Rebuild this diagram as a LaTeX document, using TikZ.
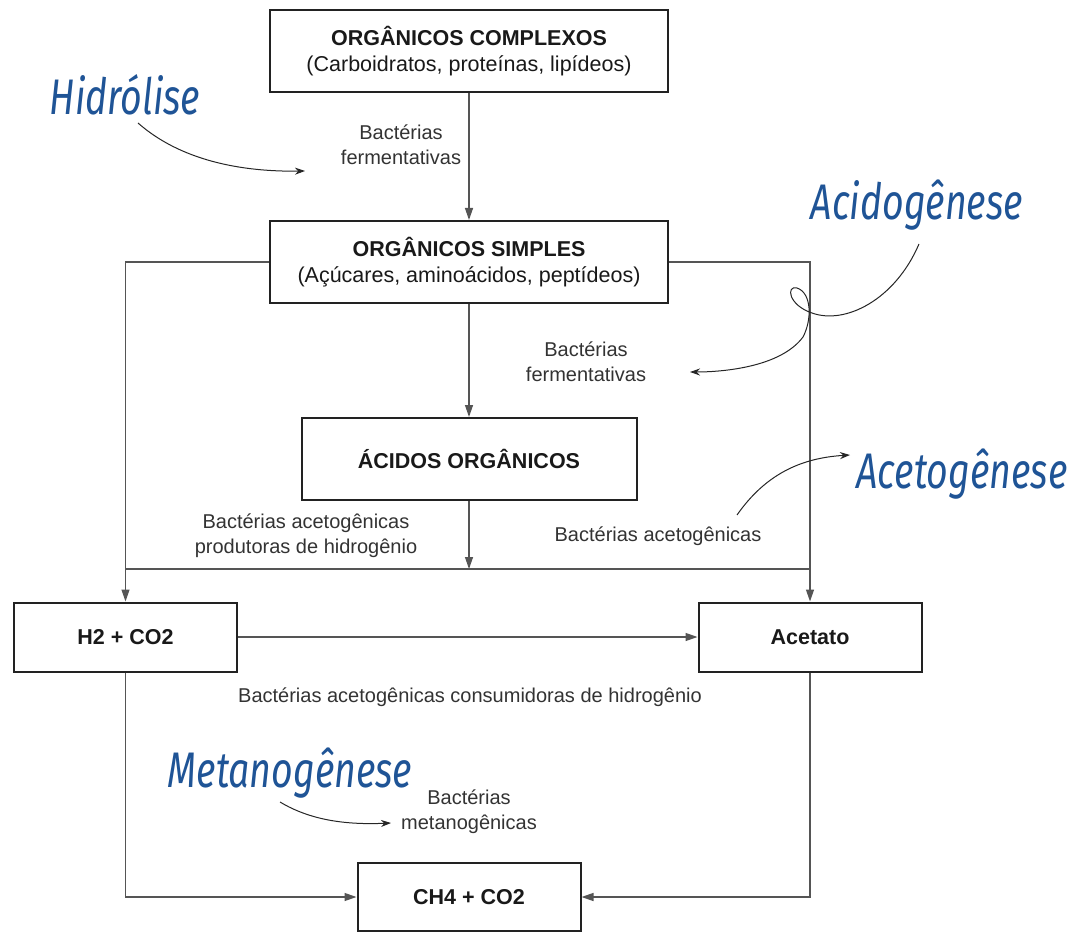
\documentclass[tikz,border=0pt]{standalone}
\usepackage{fontspec}
\setmainfont{Liberation Sans}
\newfontfamily\handfont[FakeStretch=0.75]{Fira Sans}
\usetikzlibrary{positioning, arrows.meta}
\definecolor{linegray}{HTML}{555555}
\definecolor{boxline}{HTML}{222222}
\definecolor{handblue}{HTML}{1F5496}
\tikzset{
  box/.style={
    draw=boxline,
    rectangle,
    line width=2pt,
    align=center,
    font=\fontsize{21.5}{26}\selectfont,
    text=black!90
  },
  flow/.style={
    draw=linegray,
    line width=1.3pt,
    -{Triangle[length=12pt,width=8pt]}
  },
  plain/.style={
    draw=linegray,
    line width=1.3pt
  },
  label/.style={
    align=center,
    font=\fontsize{20}{25}\selectfont,
    text=black!80
  },
  phase/.style={
    font=\handfont\itshape\fontsize{50}{50}\selectfont,
    text=handblue
  },
  annotation/.style={
    draw=black!85,
    line width=1pt,
    -{Stealth[length=10pt,width=7pt]}
  }
}
\begin{document}
\begin{tikzpicture}[x=1pt, y=-1pt]
  \useasboundingbox (0,0) rectangle (1079,933);

  % boxes
  \node[box, minimum width=398pt, minimum height=82pt] (complexos) at (469,51)
    {\textbf{ORGÂNICOS COMPLEXOS}\\(Carboidratos, proteínas, lipídeos)};
  \node[box, minimum width=398pt, minimum height=82pt] (simples) at (469,262)
    {\textbf{ORGÂNICOS SIMPLES}\\(Açúcares, aminoácidos, peptídeos)};
  \node[box, minimum width=335pt, minimum height=82pt] (acidos) at (469,459)
    {\textbf{ÁCIDOS ORGÂNICOS}};
  \node[box, minimum width=223pt, minimum height=69pt] (h2) at (125.5,637)
    {\textbf{H2 + CO2}};
  \node[box, minimum width=223pt, minimum height=69pt] (acetato) at (810,637)
    {\textbf{Acetato}};
  \node[box, minimum width=223pt, minimum height=68pt] (ch4) at (469,897)
    {\textbf{CH4 + CO2}};

  % connectors
  \draw[flow] (complexos) -- (simples);
  \draw[flow] (simples) -- (acidos);
  \draw[flow] (simples.west) -| (h2.north);
  \draw[flow] (simples.east) -| (acetato.north);
  \coordinate (juncL) at (125.5,569);
  \coordinate (juncR) at (810,569);
  \draw[plain] (juncL) -- (juncR);
  \draw[flow] (acidos.south) -- (acidos.south |- juncL);
  \draw[flow] (h2) -- (acetato);
  \draw[flow] (h2.south) |- (ch4.west);
  \draw[flow] (acetato.south) |- (ch4.east);

  % bacteria labels
  \node[label] (bfer1) at (401,145) {Bactérias\\fermentativas};
  \node[label] (bfer2) at (586,362) {Bactérias\\fermentativas};
  \node[label] (bprod) at (306,536) {Bactérias acetogênicas\\produtoras de hidrogênio};
  \node[label] (bacet) at (658,536) {Bactérias acetogênicas};
  \node[label] (bcons) at (470,697) {Bactérias acetogênicas consumidoras de hidrogênio};
  \node[label] (bmet) at (469,812) {Bactérias\\metanogênicas};

  % phases
  \node[phase] (hidro) at (125,95) {Hidrólise};
  \node[phase] (acido) at (917,205) {Acidogênese};
  \node[phase] (aceto) at (962,474) {Acetogênese};
  \node[phase] (metano) at (290,773) {Metanogênese};

  \coordinate (hidroTip) at (305,171);
  \coordinate (acidoTip) at (690,372);
  \coordinate (acetoTip) at (850,455);
  \coordinate (metanoTip) at (391,823);
  \draw[annotation] (138,123) .. controls (180,160) and (240,172) .. (hidroTip);
  \draw[annotation] (919,244) .. controls (895,300) and (845,325) .. (812,313)
    .. controls (788,305) and (786,285) .. (797,288)
    .. controls (812,293) and (812,320) .. (803,337)
    .. controls (780,368) and (720,372) .. (acidoTip);
  \draw[annotation] (737,515) .. controls (765,475) and (800,458) .. (acetoTip);
  \draw[annotation] (280,802) .. controls (310,820) and (345,825) .. (metanoTip);
\end{tikzpicture}
\end{document}
